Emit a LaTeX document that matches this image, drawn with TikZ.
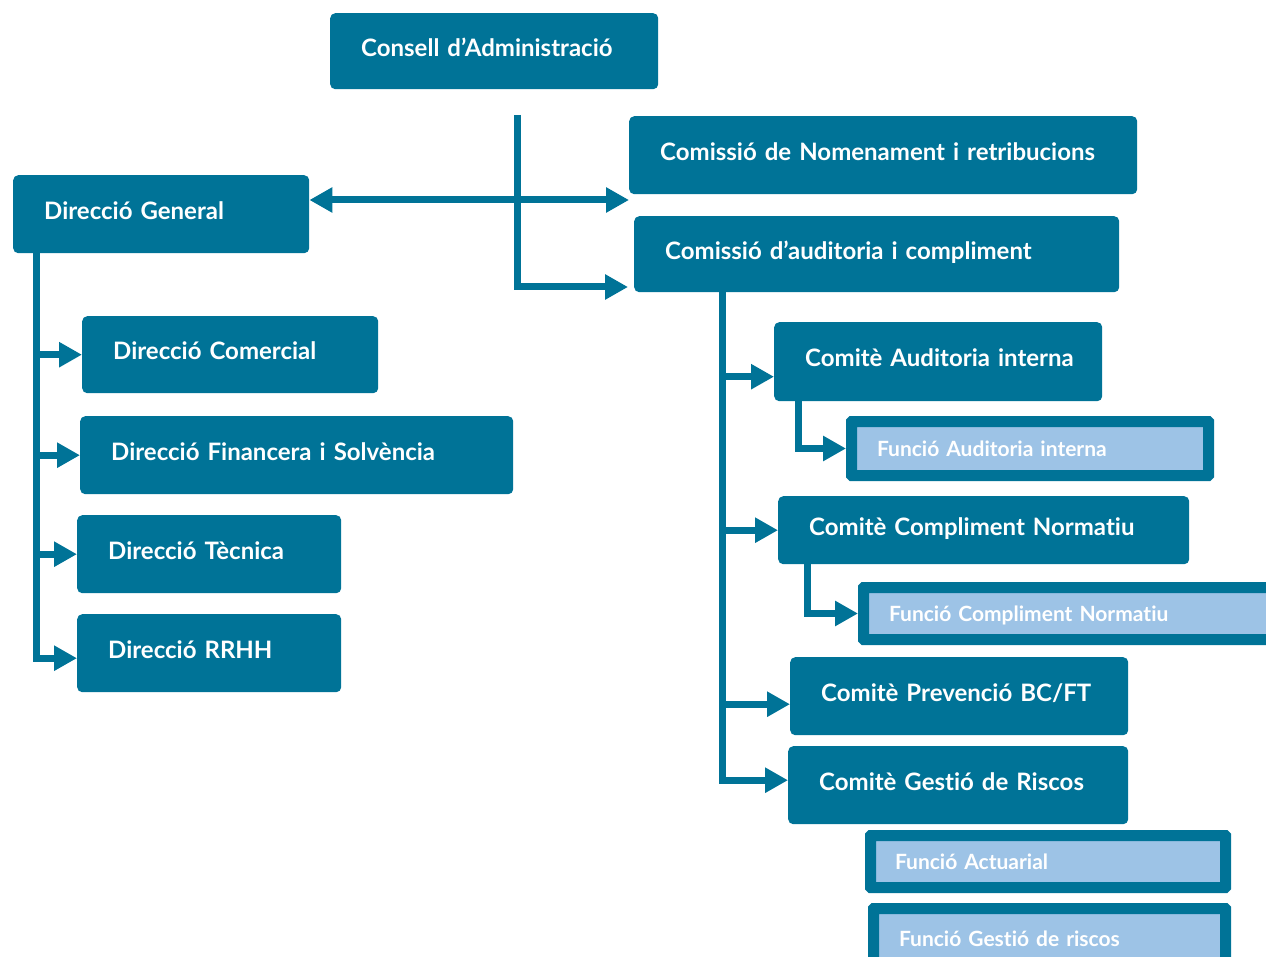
\documentclass[tikz,border=0pt]{standalone}
\usepackage{fontspec}
\setmainfont{Lato}[Ligatures=NoCommon]
\usetikzlibrary{arrows.meta,positioning}

\definecolor{orgteal}{RGB}{0,115,151}
\definecolor{orglight}{RGB}{157,195,230}

\tikzset{
  orgbox/.style={fill=orgteal, rounded corners=5pt, text=white, anchor=north west,
    align=left, inner xsep=31pt, inner ysep=0pt, text height=18pt, text depth=8pt,
    font=\bfseries\fontsize{24}{28}\selectfont},
  funcbox/.style={fill=orglight, draw=orgteal, line width=11pt, rounded corners=0.5pt,
    text=white, anchor=north west, align=left, inner xsep=25.5pt, inner ysep=0pt,
    text height=15pt, text depth=0pt, font=\bfseries\fontsize{21}{25}\selectfont},
  conn/.style={draw=orgteal, line width=7pt, -{Triangle[length=23pt,width=24pt]}},
}

\begin{document}
\begin{tikzpicture}[x=1pt,y=-1pt]
   \useasboundingbox (0,0) rectangle (1266,957);

   \node[orgbox, text width=266pt, minimum height=76pt] (consell) at (330,13) {Consell d’Administració};
   \node[orgbox, text width=446pt, minimum height=78pt] (cnomen) at (629,116) {Comissió de Nomenament i retribucions};
   \node[orgbox, text width=234pt, minimum height=78pt] (dgeneral) at (13,175) {Direcció General};
   \node[orgbox, text width=423pt, minimum height=76pt] (cauditoria) at (634,216) {Comissió d’auditoria i compliment};

   \node[orgbox, text width=234pt, minimum height=77pt] (dcomercial) at (82,316) {Direcció Comercial};
   \node[orgbox, text width=371pt, minimum height=78pt] (dfinancera) at (80,416) {Direcció Financera i Solvència};
   \node[orgbox, text width=202pt, minimum height=78pt] (dtecnica) at (77,515) {Direcció Tècnica};
   \node[orgbox, text width=202pt, minimum height=78pt] (drrhh) at (77,614) {Direcció RRHH};

   \node[orgbox, text width=266pt, minimum height=79pt] (cauditint) at (774,322) {\mbox{Comitè Auditoria interna}};
   \node[funcbox, text width=306pt, minimum height=54pt] (fauditint) at (846,416) {Funció Auditoria interna};
   \node[orgbox, text width=349pt, minimum height=68pt] (ccompliment) at (778,496) {Comitè Compliment Normatiu};
   \node[funcbox, text width=380pt, minimum height=52pt] (fcompliment) at (858,582) {Funció Compliment Normatiu};
   \node[orgbox, text width=276pt, minimum height=78pt] (cprevencio) at (790,657) {Comitè Prevenció BC/FT};
   \node[orgbox, text width=278pt, minimum height=78pt] (cgestio) at (788,746) {Comitè Gestió de Riscos};
   \node[funcbox, inner xsep=24.5pt, text width=306pt, minimum height=52pt] (factuarial) at (865,830) {Funció Actuarial};
   \node[funcbox, text width=301pt, minimum height=60pt] (fgestio) at (868,903) {Funció Gestió de riscos};

   % top split
   \coordinate (split) at (517,115);
   \draw[conn, shorten >=6pt] (split) |- (cauditoria.west |- 0,287);
   \draw[conn, {Triangle[length=23pt,width=24pt]}-{Triangle[length=23pt,width=24pt]}]
      (dgeneral.east |- 0,200) -- (cnomen.west |- 0,200);

   % direccions
   \coordinate (ltrunk) at ([xshift=23pt]dgeneral.south west);
   \draw[conn] (ltrunk) |- (dcomercial.west);
   \draw[conn] (ltrunk) |- (dfinancera.west);
   \draw[conn] (ltrunk) |- (dtecnica.west);
   \draw[conn] (ltrunk) |- ([yshift=-5pt]drrhh.west);

   % comites
   \coordinate (rtrunk) at ([xshift=88pt]cauditoria.south west);
   \draw[conn] (rtrunk) |- ([yshift=-15pt]cauditint.west);
   \draw[conn] (rtrunk) |- (ccompliment.west);
   \draw[conn] (rtrunk) |- ([yshift=-8pt]cprevencio.west);
   \draw[conn] (rtrunk) |- ([yshift=5pt]cgestio.west);

   \draw[conn] ([xshift=24pt]cauditint.south west) |- (fauditint.west);
   \draw[conn] ([xshift=29pt]ccompliment.south west) |- (fcompliment.west);
\end{tikzpicture}
\end{document}
